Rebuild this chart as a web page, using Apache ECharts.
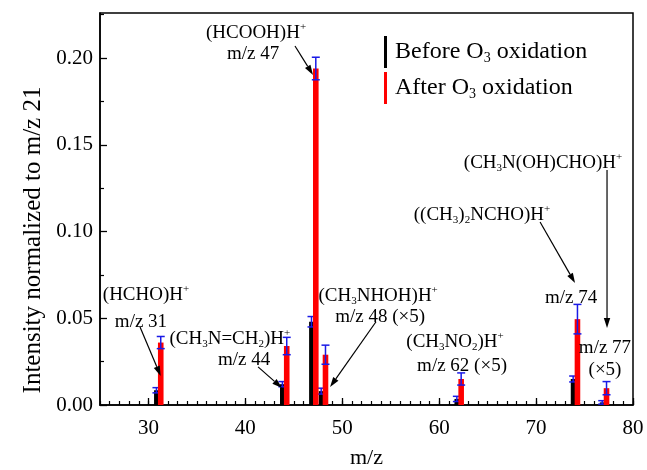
<!DOCTYPE html>
<html>
<head>
<meta charset="utf-8">
<script src="https://cdn.jsdelivr.net/npm/echarts@6/dist/echarts.min.js"></script>
<style>
  html, body { margin: 0; padding: 0; background: #fff; }
  #chart { width: 647px; height: 470px; }
</style>
</head>
<body>
<div id="chart"></div>
<script>
// peak positions (m/z)
const mzValues = [31, 44, 47, 48, 62, 74, 77];
// before O3 oxidation
const beforeValues = [0.0085, 0.012, 0.048, 0.008, 0.0035, 0.015, 0.0015];
const beforeErrors = [0.0015, 0.0015, 0.003, 0.0017, 0.0015, 0.0017, 0.001];
// after O3 oxidation
const afterValues = [0.036, 0.034, 0.194, 0.029, 0.015, 0.0495, 0.0097];
const afterErrors = [0.0035, 0.005, 0.0065, 0.0055, 0.0035, 0.0085, 0.0038];
// ticks
const xTickValues = [30, 40, 50, 60, 70, 80];
const xMinorTicks = [];
for (let v = 25; v <= 80; v++) xMinorTicks.push(v);
const yTickValues = [0, 0.05, 0.1, 0.15, 0.2];
const yMinorTicks = [0.025, 0.075, 0.125, 0.175, 0.225];

// peak labels, anchored in data coordinates [m/z, intensity]
const labels = [
  { text: '{n|(HCHO)H}{sup|+}', at: [29.75, 0.0634] },
  { text: '{n|m/z 31}', at: [29.23, 0.0479] },
  { text: '{n|(CH}{sub|3}{n|N=CH}{sub|2}{n|)H}{sup|+}', at: [38.4, 0.0379] },
  { text: '{n|m/z 44}', at: [39.86, 0.0258] },
  { text: '{n|(HCOOH)H}{sup|+}', at: [41.1, 0.2146] },
  { text: '{n|m/z 47}', at: [40.8, 0.2025] },
  { text: '{n|(CH}{sub|3}{n|NHOH)H}{sup|+}', at: [53.7, 0.0626] },
  { text: '{n|m/z 48 (×5)}', at: [53.9, 0.0505] },
  { text: '{n|(CH}{sub|3}{n|NO}{sub|2}{n|)H}{sup|+}', at: [61.64, 0.0361] },
  { text: '{n|m/z 62 (×5)}', at: [62.36, 0.0223] },
  { text: '{n|((CH}{sub|3}{n|)}{sub|2}{n|NCHO)H}{sup|+}', at: [64.42, 0.1093] },
  { text: '{n|m/z 74}', at: [73.61, 0.0617] },
  { text: '{n|(CH}{sub|3}{n|N(OH)CHO)H}{sup|+}', at: [70.72, 0.1393] },
  { text: '{n|m/z 77}', at: [77.11, 0.0330] },
  { text: '{n|(×5)}', at: [77.11, 0.0204] }
];
// arrows [from, to]
const arrows = [
  [[29.13, 0.0450], [31.26, 0.0167]],
  [[41.31, 0.0220], [43.78, 0.0098]],
  [[45.12, 0.2070], [46.98, 0.1903]],
  [[53.48, 0.0480], [48.74, 0.0104]],
  [[70.41, 0.1055], [74.02, 0.0703]],
  [[77.32, 0.1355], [77.32, 0.0444]]
];

const serif = 'Liberation Serif';
const errColor = '#1a1ae6';
const richText = {
  n: { fontSize: 19, fontFamily: serif, color: '#000' },
  sub: { fontSize: 11, fontFamily: serif, color: '#000', padding: [10, 0, 0, 0] },
  sup: { fontSize: 11, fontFamily: serif, color: '#000', padding: [0, 0, 12, 0] }
};
const legendNames = {
  'Before O3 oxidation': '{n|Before O}{sub|3}{n| oxidation}',
  'After O3 oxidation': '{n|After O}{sub|3}{n| oxidation}'
};

function barRenderer(offset, width, color) {
  return function (params, api) {
    const x = api.value(0), v = api.value(1), e = api.value(2);
    const p0 = api.coord([x, 0]);
    const p1 = api.coord([x, v]);
    const hi = api.coord([x, v + e]);
    const lo = api.coord([x, Math.max(v - e, 0)]);
    const cx = p0[0] + offset;
    const cap = 4;
    const err = { stroke: errColor, lineWidth: 1.5 };
    return {
      type: 'group',
      children: [
        { type: 'rect', shape: { x: cx - width / 2, y: p1[1], width: width, height: p0[1] - p1[1] }, style: { fill: color } },
        { type: 'line', shape: { x1: cx, y1: hi[1], x2: cx, y2: lo[1] }, style: err },
        { type: 'line', shape: { x1: cx - cap, y1: hi[1], x2: cx + cap, y2: hi[1] }, style: err },
        { type: 'line', shape: { x1: cx - cap, y1: lo[1], x2: cx + cap, y2: lo[1] }, style: err }
      ]
    };
  };
}

const chart = echarts.init(document.getElementById('chart'));
const gridBox = { left: 100, right: 14, top: 13, bottom: 65, outerBoundsMode: 'none', containLabel: false };
const axisBlack = { color: '#000', width: 1.5 };

chart.setOption({
  animation: false,
  backgroundColor: '#fff',
  grid: [
    Object.assign({ show: true, borderColor: '#000', borderWidth: 1.5 }, gridBox),
    Object.assign({ show: false }, gridBox)
  ],
  legend: {
    orient: 'vertical',
    left: 379,
    top: 31,
    itemWidth: 3,
    itemHeight: 32,
    itemGap: 4,
    icon: 'rect',
    selectedMode: false,
    formatter: name => legendNames[name],
    textStyle: {
      padding: [0, 0, 0, 3],
      rich: {
        n: { fontSize: 24, fontFamily: serif, color: '#000' },
        sub: { fontSize: 14, fontFamily: serif, color: '#000', padding: [13, 0, 0, 0] }
      }
    },
    data: ['Before O3 oxidation', 'After O3 oxidation']
  },
  xAxis: [
    {
      type: 'value', gridIndex: 0, min: 25, max: 80,
      axisLine: { lineStyle: axisBlack },
      axisTick: { inside: true, length: 7, customValues: xTickValues, lineStyle: { color: '#000', width: 1.3 } },
      axisLabel: { customValues: xTickValues, fontSize: 21, fontFamily: serif, color: '#000', margin: 13 },
      splitLine: { show: false },
      name: 'm/z', nameLocation: 'middle', nameGap: 42,
      nameTextStyle: { fontSize: 22, fontFamily: serif, color: '#000' }
    },
    {
      type: 'value', gridIndex: 1, min: 25, max: 80,
      axisLine: { show: false },
      axisTick: { inside: true, length: 4, customValues: xMinorTicks, lineStyle: { color: '#000', width: 1.2 } },
      axisLabel: { show: false },
      splitLine: { show: false }
    }
  ],
  yAxis: [
    {
      type: 'value', gridIndex: 0, min: 0, max: 0.226,
      axisLine: { show: true, lineStyle: axisBlack },
      axisTick: { show: true, inside: true, length: 7, customValues: yTickValues, lineStyle: { color: '#000', width: 1.3 } },
      axisLabel: {
        customValues: yTickValues, fontSize: 21, fontFamily: serif, color: '#000', margin: 7,
        formatter: v => v.toFixed(2)
      },
      splitLine: { show: false }
    },
    {
      type: 'value', gridIndex: 1, min: 0, max: 0.226,
      axisLine: { show: false },
      axisTick: { show: true, inside: true, length: 4, customValues: yMinorTicks, lineStyle: { color: '#000', width: 1.2 } },
      axisLabel: { show: false },
      splitLine: { show: false }
    }
  ],
  series: [
    {
      name: 'Before O3 oxidation', type: 'custom', xAxisIndex: 0, yAxisIndex: 0,
      itemStyle: { color: '#000' },
      encode: { x: 0, y: 1 },
      renderItem: barRenderer(-1.7, 4.8, '#000'),
      data: mzValues.map((m, i) => [m, beforeValues[i], beforeErrors[i]])
    },
    {
      name: 'After O3 oxidation', type: 'custom', xAxisIndex: 0, yAxisIndex: 0,
      itemStyle: { color: '#ff0000' },
      encode: { x: 0, y: 1 },
      renderItem: barRenderer(2.6, 5.6, '#ff0000'),
      data: mzValues.map((m, i) => [m, afterValues[i], afterErrors[i]])
    }
  ]
});

// annotations placed through the axis scales
const toPx = p => chart.convertToPixel({ xAxisIndex: 0, yAxisIndex: 0 }, p);
const graphics = [];
labels.forEach(l => {
  const p = toPx(l.at);
  graphics.push({
    type: 'text', x: p[0], y: p[1], z: 10,
    style: { text: l.text, rich: richText, align: 'center', verticalAlign: 'middle' }
  });
});
arrows.forEach(a => {
  const s = toPx(a[0]), t = toPx(a[1]);
  const dx = t[0] - s[0], dy = t[1] - s[1];
  const len = Math.sqrt(dx * dx + dy * dy);
  const ux = dx / len, uy = dy / len;
  const hl = 10, hw = 3.2;
  const bx = t[0] - ux * hl, by = t[1] - uy * hl;
  graphics.push({
    type: 'line', z: 10,
    shape: { x1: s[0], y1: s[1], x2: bx, y2: by },
    style: { stroke: '#000', lineWidth: 1.2 }
  });
  graphics.push({
    type: 'polygon', z: 10,
    shape: { points: [[t[0], t[1]], [bx - uy * hw, by + ux * hw], [bx + uy * hw, by - ux * hw]] },
    style: { fill: '#000' }
  });
});
// y axis title
graphics.push({
  type: 'text', x: 33, y: 240, rotation: Math.PI / 2,
  style: {
    text: 'Intensity normalized to m/z 21', font: '25px "Liberation Serif"', fill: '#000',
    align: 'center', verticalAlign: 'middle'
  }
});
chart.setOption({ graphic: graphics });
</script>
</body>
</html>
